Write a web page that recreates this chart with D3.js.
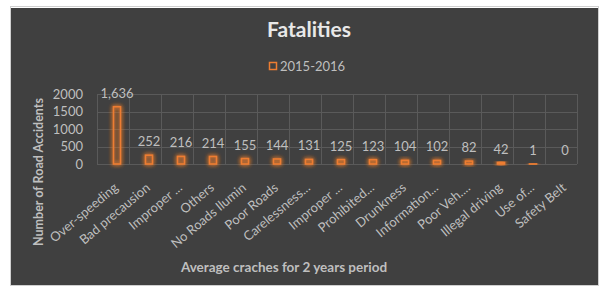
<!DOCTYPE html>
<html><head><meta charset="utf-8">
<script src="https://cdn.jsdelivr.net/npm/d3@7"></script>
<style>
html,body{margin:0;padding:0;background:#fff;}
svg{display:block;}
text{font-family:Lato, "Open Sans", sans-serif;}
</style></head>
<body>
<script>
const categories = ["Over-speeding","Bad precausion","Improper ...","Others","No Roads Ilumin","Poor Roads","Carelessness...","Improper ...","Prohibited...","Drunkness","Information...","Poor Veh....","Illegal driving","Use of...","Safety Belt"];
const values = [1636,252,216,214,155,144,131,125,123,104,102,82,42,1,0];
const seriesName = "2015-2016";
const yTicks = [0,500,1000,1500,2000];

const W=606,H=294;
const svg=d3.select("body").append("svg").attr("width",W).attr("height",H);
const defs=svg.append("defs");
const f=defs.append("filter").attr("id","glow").attr("x","-100%").attr("y","-100%").attr("width","300%").attr("height","300%");
f.append("feGaussianBlur").attr("in","SourceGraphic").attr("stdDeviation",2.2).attr("result","b");
const m=f.append("feMerge");
m.append("feMergeNode").attr("in","b");
m.append("feMergeNode").attr("in","b");
m.append("feMergeNode").attr("in","SourceGraphic");

// panel
svg.append("rect").attr("x",10.5).attr("y",6.5).attr("width",588).attr("height",279).attr("fill","none").attr("stroke","#d0d0d0").attr("stroke-width",1);
svg.append("rect").attr("x",11).attr("y",8).attr("width",587).attr("height",277).attr("fill","#404040");

const plot={l:97,r:577,t:94,b:164};
const x=d3.scaleBand().domain(d3.range(categories.length)).range([plot.l,plot.r]).padding(0);
const y=d3.scaleLinear().domain([0,2000]).range([plot.b,plot.t]);
const grid="#5a5a5a";
const g=svg.append("g");
g.selectAll(".hg").data(yTicks).join("line")
 .attr("x1",plot.l).attr("x2",plot.r).attr("y1",d=>Math.round(y(d))+0.5).attr("y2",d=>Math.round(y(d))+0.5)
 .attr("stroke",grid).attr("stroke-width",1);
g.selectAll(".vg").data(d3.range(categories.length+1)).join("line")
 .attr("x1",d=>Math.round(plot.l+d*x.bandwidth())+0.5).attr("x2",d=>Math.round(plot.l+d*x.bandwidth())+0.5)
 .attr("y1",plot.t).attr("y2",plot.b).attr("stroke",grid).attr("stroke-width",1);

// y axis labels
const yAxis=d3.axisLeft(y).tickValues(yTicks).tickSize(0).tickPadding(14).tickFormat(d3.format("d"));
const ya=svg.append("g").attr("transform",`translate(${plot.l},0)`).call(yAxis);
ya.select(".domain").remove();
ya.selectAll("text").attr("fill","#bfbfbf").style("font-size","13px").style("font-family","Lato");

const cx=i=>x(i)+x.bandwidth()*0.625;
const bw=7;
const orange="#ed7d31";
svg.append("g").selectAll("rect").data(values).join("rect")
 .attr("x",(d,i)=>cx(i)-bw/2).attr("width",bw)
 .attr("y",d=>y(d)).attr("height",d=>Math.max(0,y(0)-y(d)))
 .attr("fill","none").attr("stroke",orange).attr("stroke-width",1.6)
 .attr("filter","url(#glow)");

// value labels
svg.append("g").selectAll("text").data(values).join("text")
 .attr("x",(d,i)=>cx(i)).attr("y",d=>y(d)-9)
 .attr("text-anchor","middle").attr("fill","#bfbfbf").style("font-size","13px")
 .text(d=>d3.format(",")(d));

// category labels
svg.append("g").selectAll("text").data(categories).join("text")
 .attr("transform",(d,i)=>`translate(${cx(i)+2},${plot.b+25}) rotate(-40)`)
 .attr("text-anchor","end").attr("fill","#bfbfbf").style("font-size","13px")
 .text(d=>d);

// title
svg.append("text").attr("x",309).attr("y",37).attr("text-anchor","middle")
 .attr("fill","#e8e8e8").style("font-size","21px").style("font-weight","bold").text("Fatalities");

// legend
svg.append("rect").attr("x",269.5).attr("y",62.5).attr("width",7).attr("height",7)
 .attr("fill","none").attr("stroke",orange).attr("stroke-width",1.5);
svg.append("text").attr("x",280).attr("y",70.5).attr("fill","#bfbfbf").style("font-size","13px").text(seriesName);

// axis titles
svg.append("text").attr("transform","translate(43,172) rotate(-90)").attr("text-anchor","middle")
 .attr("fill","#bfbfbf").style("font-size","12.5px").style("font-weight","bold").text("Number of Road Accidents");
svg.append("text").attr("x",284).attr("y",272).attr("text-anchor","middle")
 .attr("fill","#bfbfbf").style("font-size","13.5px").style("font-weight","bold").text("Average craches for 2 years period");
</script>
</body></html>
